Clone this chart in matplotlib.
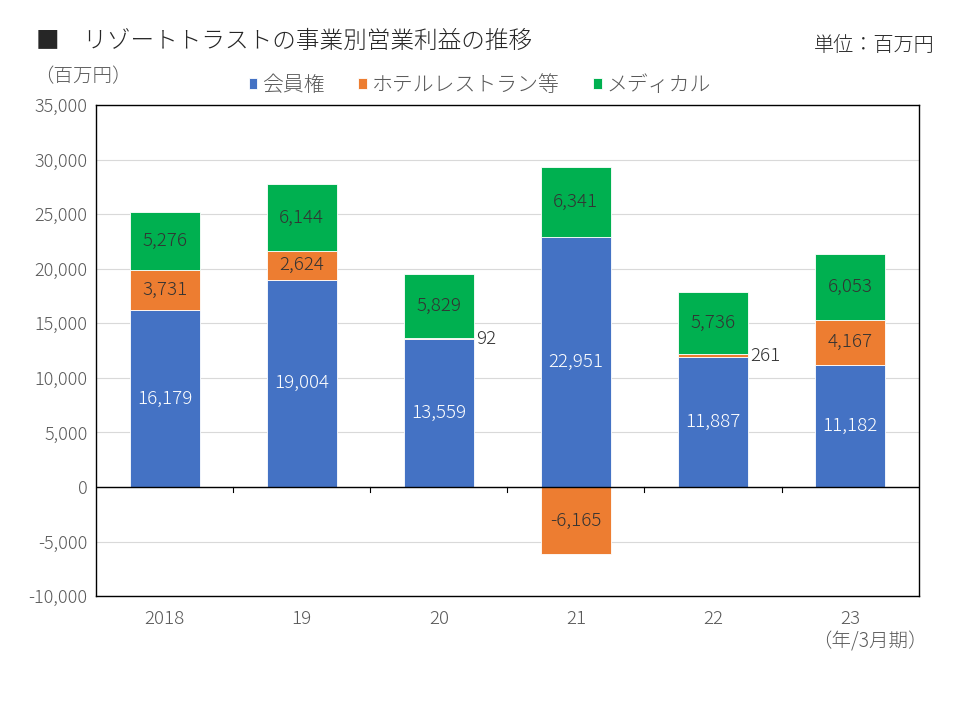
import matplotlib.pyplot as plt
import numpy as np

plt.rcParams['font.family'] = ['Noto Sans CJK JP', 'DejaVu Sans']
plt.rcParams['font.weight'] = 'light'

# data
years = ['2018', '19', '20', '21', '22', '23']
membership = [16179, 19004, 13559, 22951, 11887, 11182]
hotel = [3731, 2624, 92, -6165, 261, 4167]
medical = [5276, 6144, 5829, 6341, 5736, 6053]
series_names = ['会員権', 'ホテルレストラン等', 'メディカル']
colors = ['#4472C4', '#ED7D31', '#00B050']
yticks = list(range(-10000, 35001, 5000))

fig = plt.figure(figsize=(9.6, 7.2), dpi=100)
ax = fig.add_axes([0.1, 0.172, 0.857, 0.682])

x = np.arange(len(years))
w = 0.51
mem = np.array(membership)
hot = np.array(hotel)
med = np.array(medical)

hot_bottom = np.where(hot >= 0, mem, 0)
med_bottom = mem + np.where(hot > 0, hot, 0)

b1 = ax.bar(x, mem, w, color=colors[0], edgecolor='white', linewidth=0.6, label=series_names[0], zorder=3)
b2 = ax.bar(x, hot, w, bottom=hot_bottom, color=colors[1], edgecolor='white', linewidth=0.6, label=series_names[1], zorder=3)
b3 = ax.bar(x, med, w, bottom=med_bottom, color=colors[2], edgecolor='white', linewidth=0.6, label=series_names[2], zorder=3)

fs = 13.5
dark = '#333333'
for i in range(len(years)):
    ax.text(x[i], mem[i] / 2, f'{mem[i]:,}', ha='center', va='center', color='white', fontsize=fs, zorder=4)
    ax.text(x[i], med_bottom[i] + med[i] / 2, f'{med[i]:,}', ha='center', va='center', color=dark, fontsize=fs, zorder=4)
    if abs(hot[i]) > 1000:
        ax.text(x[i], hot_bottom[i] + hot[i] / 2, f'{hot[i]:,}', ha='center', va='center', color=dark, fontsize=fs, zorder=4)
    else:
        ax.text(x[i] + w / 2 + 0.02, hot_bottom[i] + hot[i] / 2, f'{hot[i]:,}', ha='left', va='center', color=dark, fontsize=fs, zorder=4)

ax.set_ylim(-10000, 35000)
ax.set_xlim(-0.5, len(years) - 0.5)
ax.set_yticks(yticks)
ax.set_yticklabels([f'{v:,}' for v in yticks], color='#595959', fontsize=13)
ax.yaxis.grid(True, color='#D9D9D9', linewidth=0.8, zorder=0)
ax.tick_params(axis='y', length=0, pad=6)
ax.set_xticks(x)
ax.set_xticklabels(years, color='#595959', fontsize=13.5)
ax.tick_params(axis='x', length=0, pad=10)
for s in ax.spines.values():
    s.set_color('black')
    s.set_linewidth(1.0)

# zero line with category separator ticks
ax.axhline(0, color='black', linewidth=1.0, zorder=5)
for b in np.arange(0.5, len(years) - 0.5, 1):
    ax.plot([b, b], [0, -500], color='black', linewidth=0.8, zorder=5)

fig.text(0.038, 0.943, '■　リゾートトラストの事業別営業利益の推移', fontsize=17, color='#262626', va='center')
fig.text(0.974, 0.937, '単位：百万円', fontsize=14.5, color='#262626', va='center', ha='right')
fig.text(0.036, 0.893, '（百万円）', fontsize=14, color='#595959', va='center')
fig.text(0.906, 0.108, '（年/3月期）', fontsize=14, color='#595959', va='center', ha='center')

leg = fig.legend(handles=[b1, b2, b3], loc='center', bbox_to_anchor=(0.5, 0.882), ncol=3, frameon=False,
                 fontsize=15, handlelength=0.4, handleheight=0.4, handletextpad=0.25, columnspacing=1.6)
for t in leg.get_texts():
    t.set_color('#595959')

fig.savefig('out.png', dpi=100)
